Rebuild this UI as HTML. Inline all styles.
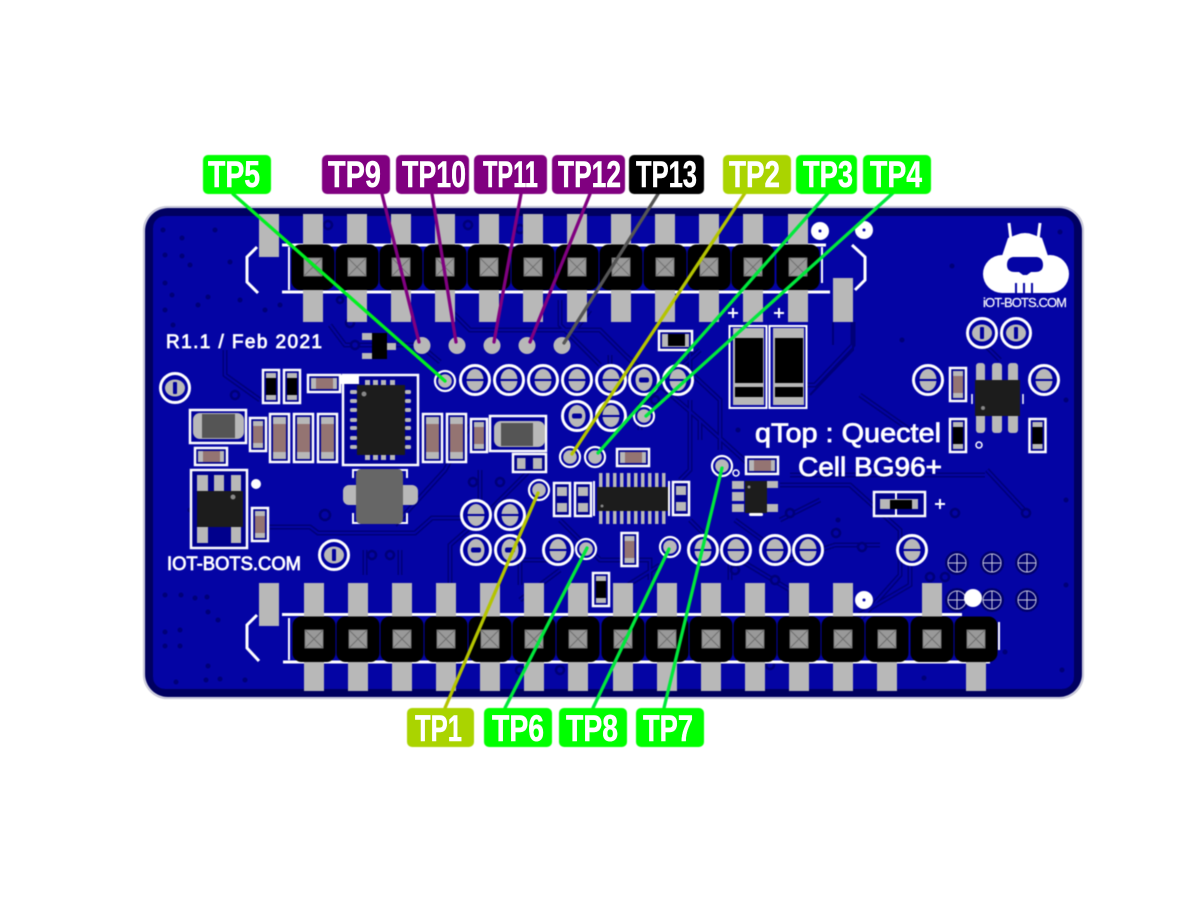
<!DOCTYPE html>
<html><head><meta charset="utf-8"><style>
html,body{margin:0;padding:0;background:#fff}
svg{display:block}
.s{font-family:"Liberation Sans",sans-serif;fill:#fff;stroke:#fff;stroke-width:.8}
.l{font-family:"Liberation Sans",sans-serif;font-weight:bold;font-size:37px;fill:#fff;stroke:#fff;stroke-width:.5}
.soft{filter:blur(.45px)}
</style></head><body>
<svg xmlns="http://www.w3.org/2000/svg" width="1200" height="900" viewBox="0 0 1200 900">
<defs>
<g id="B"><circle r="14.5" fill="#0000a0" stroke="#fff" stroke-width="3"/><ellipse rx="8.500" ry="11" fill="#b8b8b8"/><rect x="-9" y="-1" width="18" height="2" fill="#00009a"/></g>
<g id="D"><circle r="14.5" fill="#0000a0" stroke="#fff" stroke-width="3"/><ellipse rx="8.500" ry="11" fill="#b8b8b8"/><rect x="-5" y="-2.500" width="10" height="5" rx="2" fill="#00009a"/></g>
<g id="V"><circle r="14.5" fill="#0000a0" stroke="#fff" stroke-width="3"/><ellipse rx="10" ry="8.500" fill="#b8b8b8"/><rect x="-2" y="-6" width="4" height="12" rx="1" fill="#00009a"/></g>
<g id="S"><circle r="10" fill="#0000a0" stroke="#fff" stroke-width="2.200"/><circle r="6.800" fill="#b8b8b8"/></g>
<g id="K"><rect x="-21.5" y="-22.500" width="43" height="45.500" rx="9" fill="#000"/><rect x="-9" y="-9" width="18" height="18" fill="#999" stroke="#777"/><path d="M-9-9L9 9M9-9L-9 9" stroke="#666" stroke-width=".8"/></g>
<g id="R1"><rect x="1" y="1" width="16" height="33" fill="#00008c" stroke="#fff" stroke-width="2.500"/><rect x="4" y="4" width="10" height="27" fill="#b8b8b8"/><rect x="4" y="9" width="10" height="17" fill="#947472"/></g>
<g id="R2"><rect x="1" y="1" width="19" height="48" fill="#00008c" stroke="#fff" stroke-width="2.500"/><rect x="4" y="4" width="13" height="42" fill="#b8b8b8"/><rect x="4" y="11" width="13" height="28" fill="#947472"/></g>
<g id="Rh"><rect x="1" y="1" width="32" height="17" fill="#00008c" stroke="#fff" stroke-width="2.500"/><rect x="4" y="4" width="26" height="11" fill="#b8b8b8"/><rect x="9" y="4" width="17" height="11" fill="#947472"/></g>
<g id="C1"><rect x="1" y="1" width="16" height="33" fill="#00008c" stroke="#fff" stroke-width="2.500"/><rect x="4" y="4" width="10" height="27" fill="#b8b8b8"/><rect x="4" y="9" width="10" height="17" fill="#000"/></g>
<g id="D2"><rect x="1" y="1" width="16" height="33" fill="#00008c" stroke="#fff" stroke-width="2.500"/><rect x="4" y="5" width="10" height="9" fill="#b8b8b8"/><rect x="4" y="21" width="10" height="9" fill="#b8b8b8"/></g>
<g id="F"><circle r="12" fill="#00006c"/><circle r="9" fill="none" stroke="#c8c8e0" stroke-width="1"/><path d="M-9 0H9M0-9V9" stroke="#c8c8e0" stroke-width="1"/></g>
<path id="tr" fill="none" d="M853 322V345L815 385H800M700 350L640 405V430M560 300V325L600 365M690 352V372L720 400V450M440 300L470 330H600L650 380M330 325L345 345H420L440 362M260 400L225 375V350M267 527H310L318 533H415L432 518H470M470 425L445 470L395 525M530 470L490 510L450 545V590M560 520L600 560H650V580M690 520L730 560V580M780 485H850L900 530V575L860 620M700 420L755 470M780 520L820 500M987 470L1027 513M790 475H985M880 545L835 545L790 560L735 520M910 565V585L850 620M520 585V560H560M660 565L620 590M365 575V550M400 575V550M610 355V385M690 400V470L680 480M625 355L700 420V440M560 570L520 600M740 560L790 590V610M910 430L860 395M1000 360L985 345M590 310L575 330M480 470V500"/>
</defs>
<rect width="1200" height="900" fill="#fff"/>
<g class="soft">
<rect x="143.500" y="206.500" width="940" height="492" rx="24" fill="#d8d8e8" stroke="#c0c0d0"/>
<rect x="145" y="208" width="937" height="489" rx="23" fill="#000060"/>
<rect x="153" y="216" width="921" height="473" rx="12" fill="#0404a4"/>
<use href="#tr" stroke="#000078" stroke-width="5"/>
<use href="#tr" stroke="#0404a4" stroke-width="2"/>
<path d="M833 322V345M853 322V350L810 395" fill="none" stroke="#000078" stroke-width="2"/>
<g fill="#000078"><circle cx="163" cy="230" r="2.500"/><circle cx="182" cy="238" r="2.500"/><circle cx="215" cy="230" r="2.500"/><circle cx="165" cy="255" r="2.500"/><circle cx="182" cy="256" r="2.500"/><circle cx="190" cy="265" r="2.500"/><circle cx="230" cy="262" r="2.500"/><circle cx="165" cy="283" r="2.500"/><circle cx="172" cy="295" r="2.500"/><circle cx="208" cy="297" r="2.500"/><circle cx="240" cy="300" r="2.500"/><circle cx="165" cy="310" r="2.500"/><circle cx="198" cy="305" r="2.500"/><circle cx="265" cy="310" r="2.500"/><circle cx="280" cy="305" r="2.500"/><circle cx="173" cy="325" r="2.500"/><circle cx="190" cy="510" r="2.500"/><circle cx="165" cy="595" r="2.500"/><circle cx="181" cy="595" r="2.500"/><circle cx="195" cy="598" r="2.500"/><circle cx="207" cy="597" r="2.500"/><circle cx="208" cy="612" r="2.500"/><circle cx="218" cy="620" r="2.500"/><circle cx="165" cy="632" r="2.500"/><circle cx="180" cy="630" r="2.500"/><circle cx="165" cy="646" r="2.500"/><circle cx="180" cy="646" r="2.500"/><circle cx="208" cy="666" r="2.500"/><circle cx="176" cy="682" r="2.500"/><circle cx="206" cy="680" r="2.500"/><circle cx="220" cy="679" r="2.500"/><circle cx="245" cy="680" r="2.500"/><circle cx="1045" cy="266" r="2.500"/><circle cx="952" cy="266" r="2.500"/><circle cx="902" cy="340" r="2.500"/><circle cx="1060" cy="232" r="2.500"/><circle cx="1066" cy="400" r="2.500"/><circle cx="1066" cy="500" r="2.500"/><circle cx="1066" cy="585" r="2.500"/><circle cx="1062" cy="670" r="2.500"/><circle cx="924" cy="678" r="2.500"/><circle cx="1005" cy="652" r="2.500"/><circle cx="838" cy="520" r="2.500"/><circle cx="738" cy="430" r="2.500"/></g>
<g fill="#0404a4" stroke="#000078" stroke-width="2.500"><circle cx="955" cy="513" r="4"/><circle cx="1026" cy="513" r="4"/><circle cx="862" cy="547" r="4"/><circle cx="790" cy="513" r="4"/><circle cx="836" cy="533" r="4"/><circle cx="325" cy="515" r="5"/><circle cx="372" cy="555" r="4"/><circle cx="390" cy="555" r="4"/><circle cx="473" cy="482" r="4"/><circle cx="500" cy="482" r="4"/><circle cx="540" cy="450" r="4"/><circle cx="655" cy="400" r="4"/><circle cx="350" cy="323" r="4"/><circle cx="340" cy="300" r="3"/><circle cx="328" cy="225" r="4"/><circle cx="468" cy="225" r="4"/><circle cx="520" cy="229" r="4"/><circle cx="355" cy="345" r="4"/><circle cx="235" cy="395" r="4"/><circle cx="770" cy="665" r="4"/><circle cx="520" cy="670" r="4"/><circle cx="560" cy="670" r="4"/><circle cx="775" cy="580" r="4"/><circle cx="735" cy="570" r="4"/><circle cx="930" cy="577" r="4"/><circle cx="945" cy="577" r="4"/><circle cx="460" cy="650" r="4"/></g>
<g fill="none" stroke="#fff" stroke-width="3"><path d="M282 245H826M282 292H830M257 247L247 257V282L258 293M852 245L865 257V280L855 290"/><path d="M282 614.500H962M283 662H990M257 615L247 625V648L259 661"/><path d="M289 247V290M289 618V660M822 247V283M999 622V650" stroke-width="2"/></g>
<g fill="#b8b8b8"><rect x="259" y="214" width="20" height="43"/><rect x="833" y="278" width="20" height="44"/><rect x="259" y="583" width="20" height="43"/>
<rect x="303" y="214" width="20" height="108"/><rect x="347" y="214" width="20" height="108"/><rect x="391" y="214" width="20" height="108"/><rect x="435" y="214" width="20" height="108"/><rect x="479" y="214" width="20" height="108"/><rect x="523" y="214" width="20" height="108"/><rect x="567" y="214" width="20" height="108"/><rect x="611" y="214" width="20" height="108"/><rect x="655" y="214" width="20" height="108"/><rect x="699" y="214" width="20" height="108"/><rect x="743" y="214" width="20" height="108"/><rect x="788" y="214" width="20" height="108"/>
<rect x="304" y="583" width="20" height="108"/><rect x="348" y="583" width="20" height="108"/><rect x="392" y="583" width="20" height="108"/><rect x="436" y="583" width="20" height="108"/><rect x="480" y="583" width="20" height="108"/><rect x="524" y="583" width="20" height="108"/><rect x="568" y="583" width="20" height="108"/><rect x="613" y="583" width="20" height="108"/><rect x="657" y="583" width="20" height="108"/><rect x="701" y="583" width="20" height="108"/><rect x="745" y="583" width="20" height="108"/><rect x="789" y="583" width="20" height="108"/><rect x="833" y="583" width="20" height="108"/><rect x="877" y="630" width="20" height="61"/><rect x="922" y="583" width="20" height="50"/><rect x="966" y="630" width="20" height="61"/></g>
<use href="#K" x="313" y="267"/><use href="#K" x="357" y="267"/><use href="#K" x="401" y="267"/><use href="#K" x="445" y="267"/><use href="#K" x="489" y="267"/><use href="#K" x="533" y="267"/><use href="#K" x="577" y="267"/><use href="#K" x="621" y="267"/><use href="#K" x="665" y="267"/><use href="#K" x="709" y="267"/><use href="#K" x="753" y="267"/><use href="#K" x="798" y="267"/>
<use href="#K" x="314" y="639"/><use href="#K" x="358" y="639"/><use href="#K" x="402" y="639"/><use href="#K" x="446" y="639"/><use href="#K" x="490" y="639"/><use href="#K" x="534" y="639"/><use href="#K" x="578" y="639"/><use href="#K" x="623" y="639"/><use href="#K" x="667" y="639"/><use href="#K" x="711" y="639"/><use href="#K" x="755" y="639"/><use href="#K" x="799" y="639"/><use href="#K" x="843" y="639"/><use href="#K" x="887" y="639"/><use href="#K" x="932" y="639"/><use href="#K" x="976" y="639"/>
<g fill="#fff"><circle cx="820" cy="231" r="9"/><circle cx="864" cy="230" r="9"/><circle cx="864" cy="600" r="9"/><circle cx="256" cy="484" r="5"/></g>
<g fill="#0404a4"><circle cx="820" cy="231" r="1.500"/><circle cx="864" cy="230" r="1.500"/><circle cx="864" cy="600" r="1.500"/></g>
<g fill="#b8b8b8"><circle cx="422" cy="345.500" r="8.500"/><circle cx="457" cy="345.500" r="8.500"/><circle cx="492" cy="345.500" r="8.500"/><circle cx="527" cy="345.500" r="8.500"/><circle cx="562" cy="345.500" r="8.500"/></g>
<use href="#S" x="445" y="381"/><use href="#B" x="475" y="380"/><use href="#B" x="509" y="380"/><use href="#B" x="543" y="380"/><use href="#B" x="577" y="380"/><use href="#B" x="611" y="380"/><use href="#D" x="644" y="380"/><use href="#B" x="678" y="380"/>
<use href="#D" x="577" y="416"/><use href="#B" x="611" y="416"/><use href="#S" x="644" y="416"/><use href="#S" x="570" y="457"/><use href="#S" x="595" y="457"/><use href="#S" x="539" y="490"/>
<use href="#B" x="476" y="515"/><use href="#B" x="510" y="515"/><use href="#D" x="476" y="550"/><use href="#D" x="510" y="550"/><use href="#B" x="558" y="550"/><use href="#S" x="586" y="549"/><use href="#S" x="670" y="547"/><use href="#B" x="703" y="550"/><use href="#B" x="736" y="550"/><use href="#B" x="775" y="550"/><use href="#B" x="808" y="550"/><use href="#B" x="912" y="550"/>
<use href="#S" x="722" y="466"/><circle cx="736" cy="473" r="3" fill="#0404a4" stroke="#fff" stroke-width="1.500"/>
<use href="#V" x="175" y="388"/><use href="#V" x="334" y="555"/><use href="#V" x="982" y="333"/><use href="#V" x="1016" y="333"/><use href="#B" x="928" y="380"/><use href="#B" x="1044" y="380"/>
<use href="#C1" x="262" y="369"/><use href="#C1" x="283" y="369"/><use href="#Rh" x="307" y="374"/>
<rect x="343" y="375" width="75" height="90" fill="#000094" stroke="#fff" stroke-width="2.500"/>
<rect x="340" y="375" width="19" height="9" fill="#fff"/>
<g fill="#b8b8b8"><rect x="350" y="390" width="7" height="4" rx="1.500"/><rect x="350" y="399" width="7" height="4" rx="1.500"/><rect x="350" y="408" width="7" height="4" rx="1.500"/><rect x="350" y="418" width="7" height="4" rx="1.500"/><rect x="350" y="426" width="7" height="4" rx="1.500"/><rect x="350" y="436" width="7" height="4" rx="1.500"/><rect x="350" y="445" width="7" height="4" rx="1.500"/><rect x="405" y="390" width="6" height="4" rx="1.500"/><rect x="405" y="399" width="6" height="4" rx="1.500"/><rect x="405" y="408" width="6" height="4" rx="1.500"/><rect x="405" y="418" width="6" height="4" rx="1.500"/><rect x="405" y="426" width="6" height="4" rx="1.500"/><rect x="405" y="436" width="6" height="4" rx="1.500"/><rect x="405" y="445" width="6" height="4" rx="1.500"/><rect x="365" y="380" width="5" height="5"/><rect x="373" y="380" width="5" height="5"/><rect x="381" y="380" width="5" height="5"/><rect x="390" y="380" width="5" height="5"/><rect x="365" y="455" width="5" height="5"/><rect x="373" y="455" width="5" height="5"/><rect x="381" y="455" width="5" height="5"/><rect x="390" y="455" width="5" height="5"/></g>
<rect x="357" y="385" width="48" height="70" fill="#1c1c1c"/><circle cx="364" cy="394" r="2.500" fill="#888"/>
<rect x="190" y="410" width="56" height="33" fill="#00009a" stroke="#fff" stroke-width="2.500"/><rect x="193" y="413" width="51" height="26" rx="7" fill="#b8b8b8"/><rect x="202" y="414" width="33" height="24" fill="#555"/>
<use href="#R1" x="249" y="417"/><use href="#R2" x="269" y="413"/><use href="#R2" x="293" y="413"/><use href="#R2" x="317" y="413"/><use href="#Rh" x="194" y="447"/>
<use href="#R2" x="422" y="413"/><use href="#R2" x="446" y="413"/><use href="#R1" x="470" y="418"/>
<rect x="490" y="416" width="56" height="35" fill="#00009a" stroke="#fff" stroke-width="2.500"/><rect x="494" y="421" width="51" height="26" rx="7" fill="#b8b8b8"/><rect x="501" y="423" width="32" height="23" fill="#555"/>
<rect x="513" y="454" width="33" height="18" fill="#00008c" stroke="#fff" stroke-width="2.500"/><rect x="517" y="458" width="8.500" height="11" fill="#b8b8b8"/><rect x="533" y="458" width="9" height="11" fill="#b8b8b8"/>
<use href="#Rh" x="616" y="448"/><use href="#D2" x="553" y="482"/><use href="#D2" x="574" y="482"/>
<g fill="#b8b8b8"><rect x="599" y="473" width="3.500" height="51"/><rect x="606" y="473" width="3.500" height="51"/><rect x="613" y="473" width="3.500" height="51"/><rect x="620" y="473" width="3.500" height="51"/><rect x="627" y="473" width="3.500" height="51"/><rect x="634" y="473" width="3.500" height="51"/><rect x="641" y="473" width="3.500" height="51"/><rect x="648" y="473" width="3.500" height="51"/><rect x="655" y="473" width="3.500" height="51"/><rect x="662" y="473" width="3.500" height="51"/></g>
<rect x="597" y="487" width="71" height="24" fill="#1c1c1c"/><circle cx="602" cy="506" r="1.500" fill="#888"/><path d="M594 481V516M669 481V516" stroke="#fff" stroke-width="2"/>
<use href="#D2" x="672" y="481"/><use href="#R1" x="620.500" y="532"/><use href="#C1" x="592" y="572"/><use href="#Rh" x="745" y="456"/>
<g fill="#b8b8b8"><rect x="732" y="481" width="12" height="8"/><rect x="732" y="492" width="12" height="9"/><rect x="732" y="504" width="12" height="8"/><rect x="767" y="481" width="11" height="7"/><rect x="767" y="504" width="11" height="8"/></g>
<rect x="745" y="481" width="22" height="32" fill="#1c1c1c"/><circle cx="749" cy="487" r="1.500" fill="#888"/><rect x="749" y="513" width="14" height="3" rx="1.500" fill="#fff"/>
<rect x="874" y="492" width="51" height="24" fill="#00008c" stroke="#fff" stroke-width="2.500"/><path d="M896 492V516" stroke="#fff" stroke-width="2"/><rect x="880" y="499" width="38" height="10" fill="#b8b8b8"/><rect x="890" y="500" width="22" height="9" fill="#000"/>
<g><rect x="729.500" y="326" width="37" height="82" fill="#0404a4" stroke="#fff" stroke-width="2"/><rect x="733" y="328" width="31" height="77" fill="#b8b8b8"/><rect x="735" y="338" width="28" height="45" fill="#000"/><rect x="735" y="387" width="28" height="10" fill="#000"/></g>
<g><rect x="769.500" y="326" width="37" height="82" fill="#0404a4" stroke="#fff" stroke-width="2"/><rect x="773" y="328" width="31" height="77" fill="#b8b8b8"/><rect x="775" y="338" width="28" height="45" fill="#000"/><rect x="775" y="387" width="28" height="10" fill="#000"/></g>
<path d="M728 313h10M733 308v10M774 313h10M779 308v10M935 504h10M940 499v10" stroke="#fff" stroke-width="2"/>
<rect x="659" y="331" width="33" height="19" fill="#00008c" stroke="#fff" stroke-width="2.500"/><rect x="662" y="334" width="27" height="13" fill="#b8b8b8"/><rect x="668" y="334" width="17" height="12" fill="#000"/>
<g fill="#b8b8b8"><rect x="976" y="363" width="9" height="70" rx="3"/><rect x="992" y="363" width="10" height="70" rx="3"/><rect x="1008" y="363" width="10" height="70" rx="3"/></g>
<rect x="975" y="380" width="45" height="36" fill="#1c1c1c"/><circle cx="983" cy="408" r="2" fill="#888"/>
<path d="M972 394V404M1023 394V404" stroke="#fff" stroke-width="1.500"/>
<use href="#R1" x="949" y="367"/><use href="#C1" x="949" y="418"/><use href="#C1" x="1028.500" y="418"/><circle cx="979" cy="445" r="3" fill="#0404a4" stroke="#fff" stroke-width="1.500"/>
<rect x="191" y="470" width="56" height="78" fill="#00008c" stroke="#fff" stroke-width="2.500"/>
<g fill="#b8b8b8"><rect x="197" y="475" width="11" height="17"/><rect x="214" y="475" width="10" height="17"/><rect x="231" y="475" width="10" height="17"/><rect x="197" y="526" width="11" height="17"/><rect x="231" y="526" width="10" height="17"/></g>
<rect x="197" y="491" width="46" height="36" fill="#1c1c1c"/><circle cx="233" cy="497" r="2.500" fill="#888"/>
<use href="#R1" x="251" y="507"/>
<path d="M353 478V470H407V478M353 513V523H407V513" fill="none" stroke="#fff" stroke-width="2"/>
<rect x="343" y="485" width="75" height="20" rx="6" fill="#b8b8b8"/><rect x="356" y="469" width="47" height="55" rx="5" fill="#666"/>
<rect x="362" y="333" width="10" height="7" fill="#b8b8b8"/><rect x="362" y="353" width="10" height="6" fill="#b8b8b8"/><rect x="387" y="343" width="9" height="7" fill="#b8b8b8"/><rect x="372" y="333" width="15" height="26" fill="#000"/>
<use href="#F" x="957" y="563"/><use href="#F" x="992" y="563"/><use href="#F" x="1027" y="563"/><use href="#F" x="957" y="600"/><use href="#F" x="992" y="600"/><use href="#F" x="1027" y="600"/>
<circle cx="973" cy="598" r="9" fill="#fff"/>
<path d="M1009 223L1011 240M1040 223L1038 240" stroke="#fff" stroke-width="3"/>
<g fill="#fff"><path d="M1008 238L1016 235H1034L1042 238L1048 256L1050 270H1000L1002 256Z"/><circle cx="1025" cy="254" r="21"/><circle cx="1002" cy="274" r="19"/><circle cx="1050" cy="274" r="19"/><rect x="1002" y="270" width="48" height="23"/></g>
<path d="M1013 257H1037Q1043 258 1043 265Q1043 272 1035 272H1031L1027 275H1023L1019 272H1015Q1007 272 1007 265Q1007 258 1013 257Z" fill="#0404a4"/>
<path d="M1016 283V293M1024 283V293M1032 283V293" stroke="#0404a4" stroke-width="2"/>
<text class="s" style="stroke-width:.2" x="983" y="307" font-size="13" textLength="84" lengthAdjust="spacing">iOT-BOTS.COM</text>
<text class="s" x="166" y="348" font-size="19" textLength="156" lengthAdjust="spacing">R1.1 / Feb 2021</text>
<text class="s" x="167" y="570" font-size="19" textLength="134" lengthAdjust="spacingAndGlyphs">IOT-BOTS.COM</text>
<text class="s" x="755" y="442" font-size="27" textLength="186" lengthAdjust="spacingAndGlyphs">qTop : Quectel</text>
<text class="s" x="798" y="476" font-size="27" textLength="144" lengthAdjust="spacingAndGlyphs">Cell BG96+</text>
<g stroke-width="3.300" stroke-linecap="round">
<path d="M233 194L445 381" stroke="#00f020"/>
<path d="M382 194L419 342M432 194L456 342M521 194L494 342M590 194L530 342" stroke="#800080"/>
<path d="M658 194L564 343" stroke="#555"/>
<path d="M745 193L572 454M445 708L538 493" stroke="#b4c400"/>
<path d="M828 193L598 453M893 193L646 416M505 708L587 548M593 708L669 549M664 708L722 468" stroke="#00e83c"/>
</g>
<g>
<rect x="203" y="155" width="68" height="39" rx="5" fill="#00ff00"/><rect x="322" y="155" width="68" height="39" rx="5" fill="#800080"/><rect x="396" y="155" width="73" height="39" rx="5" fill="#800080"/><rect x="474" y="155" width="73" height="39" rx="5" fill="#800080"/><rect x="552" y="155" width="73" height="39" rx="5" fill="#800080"/><rect x="629" y="155" width="75" height="39" rx="5" fill="#000"/><rect x="723" y="155" width="68" height="39" rx="5" fill="#aad400"/><rect x="796" y="155" width="61" height="39" rx="5" fill="#00ff00"/><rect x="863" y="155" width="68" height="39" rx="5" fill="#00ff00"/>
<rect x="407" y="708" width="67" height="39" rx="5" fill="#aad400"/><rect x="484" y="708" width="68" height="39" rx="5" fill="#00ff00"/><rect x="559" y="708" width="68" height="39" rx="5" fill="#00ff00"/><rect x="636" y="708" width="68" height="39" rx="5" fill="#00ff00"/>
</g>
</g>
<text class="l" x="208" y="187" textLength="52" lengthAdjust="spacingAndGlyphs">TP5</text>
<text class="l" x="328" y="187" textLength="53" lengthAdjust="spacingAndGlyphs">TP9</text>
<text class="l" x="402" y="187" textLength="64" lengthAdjust="spacingAndGlyphs">TP10</text>
<text class="l" x="483" y="187" textLength="55" lengthAdjust="spacingAndGlyphs">TP11</text>
<text class="l" x="558" y="187" textLength="63" lengthAdjust="spacingAndGlyphs">TP12</text>
<text class="l" x="636" y="187" textLength="61" lengthAdjust="spacingAndGlyphs">TP13</text>
<text class="l" x="729" y="187" textLength="51" lengthAdjust="spacingAndGlyphs">TP2</text>
<text class="l" x="803" y="187" textLength="50" lengthAdjust="spacingAndGlyphs">TP3</text>
<text class="l" x="870" y="187" textLength="52" lengthAdjust="spacingAndGlyphs">TP4</text>
<text class="l" x="415" y="741" textLength="47" lengthAdjust="spacingAndGlyphs">TP1</text>
<text class="l" x="492" y="741" textLength="52" lengthAdjust="spacingAndGlyphs">TP6</text>
<text class="l" x="566" y="741" textLength="52" lengthAdjust="spacingAndGlyphs">TP8</text>
<text class="l" x="643" y="741" textLength="50" lengthAdjust="spacingAndGlyphs">TP7</text>
</svg>
</body></html>
